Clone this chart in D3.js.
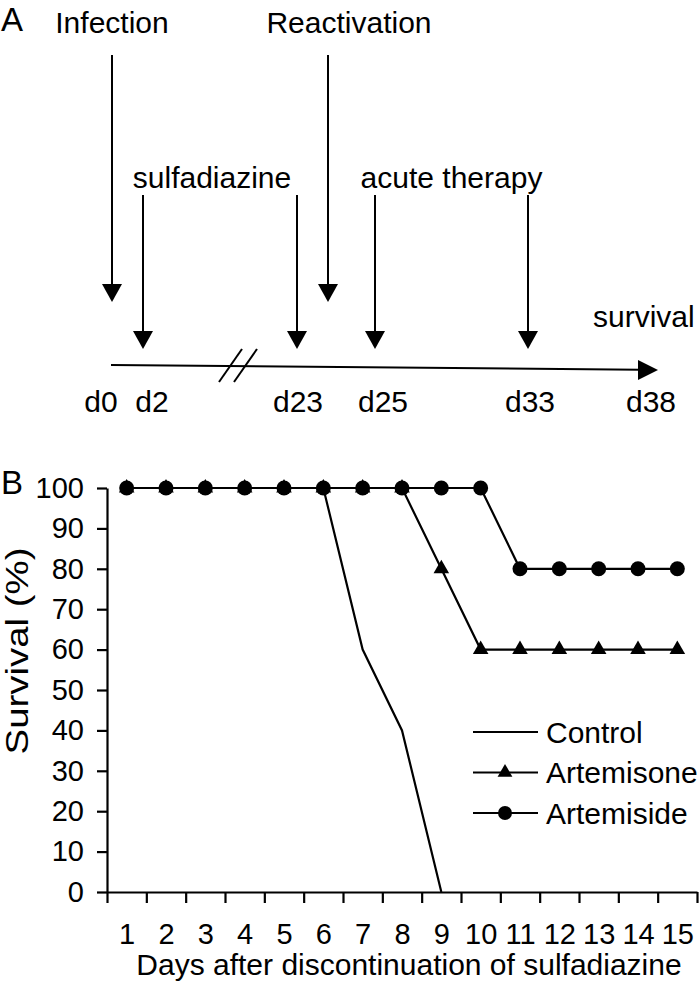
<!DOCTYPE html>
<html>
<head>
<meta charset="utf-8">
<script src="https://cdn.jsdelivr.net/npm/d3@7"></script>
<style>
  body { margin: 0; background: #fff; }
  svg { display: block; font-family: "Liberation Sans", Arial, sans-serif; }
</style>
</head>
<body>
<svg id="fig"></svg>
<script>
// panel A: timeline
const timelineDays = [0, 2, 23, 25, 33, 38];
const timelineLabels = ["d0", "d2", "d23", "d25", "d33", "d38"];
const pointEvents = ["Infection", "Reactivation"];
const pointEventDays = [0, 24];
const periodEvents = ["sulfadiazine", "acute therapy"];
const periodStart = [2, 25];
const periodEnd = [23, 33];
const endLabel = "survival";

// panel B: survival
const days = [1, 2, 3, 4, 5, 6, 7, 8, 9, 10, 11, 12, 13, 14, 15];
const control = [100, 100, 100, 100, 100, 100, 60, 40, 0];
const artemisone = [100, 100, 100, 100, 100, 100, 100, 100, 80, 60, 60, 60, 60, 60, 60];
const artemiside = [100, 100, 100, 100, 100, 100, 100, 100, 100, 100, 80, 80, 80, 80, 80];
const yTicks = [0, 10, 20, 30, 40, 50, 60, 70, 80, 90, 100];
const seriesNames = ["Control", "Artemisone", "Artemiside"];

const width = 700;
const height = 991;
const svg = d3.select("#fig").attr("width", width).attr("height", height);

// ---------- Panel A ----------
const a = svg.append("g");

// timeline has a break so map days piecewise
const tx = d3.scaleLinear()
  .domain([0, 2, 23, 24, 25, 33, 38])
  .range([112, 143, 297, 328, 375, 528, 658]);
const labelX = d3.scaleLinear()
  .domain(timelineDays)
  .range([101, 152, 298, 383, 530, 651]);

function downArrow(g, x, y0, y1) {
  g.append("line")
    .attr("x1", x).attr("x2", x)
    .attr("y1", y0).attr("y2", y1 - 16)
    .attr("stroke", "#000").attr("stroke-width", 2);
  g.append("path")
    .attr("d", `M${x - 10},${y1 - 18} L${x + 10},${y1 - 18} L${x},${y1} Z`)
    .attr("fill", "#000");
}

a.append("text").attr("x", 1).attr("y", 31)
  .attr("font-size", 33).text("A");

// point events (long arrows)
pointEvents.forEach((name, i) => {
  const x = tx(pointEventDays[i]);
  downArrow(a, x, 55, 302);
});
a.append("text").attr("x", tx(pointEventDays[0])).attr("y", 33)
  .attr("text-anchor", "middle").attr("font-size", 30).text(pointEvents[0]);
a.append("text").attr("x", tx(pointEventDays[1]) + 21).attr("y", 33)
  .attr("text-anchor", "middle").attr("font-size", 30).text(pointEvents[1]);

// treatment periods (short arrows at start and end)
periodEvents.forEach((name, i) => {
  const x0 = tx(periodStart[i]);
  const x1 = tx(periodEnd[i]);
  downArrow(a, x0, 195, 349);
  downArrow(a, x1, 195, 349);
  a.append("text")
    .attr("x", (x0 + x1) / 2 - 8 * (1 - i))
    .attr("y", 188)
    .attr("text-anchor", "middle")
    .attr("font-size", 30)
    .text(name);
});

// axis line, slightly tilted like the original
const lineStart = tx(0) - 1;
const lineEnd = tx(38);
a.append("line")
  .attr("x1", lineStart).attr("y1", 365)
  .attr("x2", lineEnd - 18).attr("y2", 369.8)
  .attr("stroke", "#000").attr("stroke-width", 2);
a.append("path")
  .attr("d", `M${lineEnd - 20},${360} L${lineEnd},${370} L${lineEnd - 20},${380} Z`)
  .attr("fill", "#000");

// break marks
[0, 15].forEach(off => {
  a.append("line")
    .attr("x1", 219 + off).attr("y1", 382)
    .attr("x2", 242 + off).attr("y2", 349)
    .attr("stroke", "#000").attr("stroke-width", 2);
});

a.selectAll(".tl-label")
  .data(timelineDays)
  .enter()
  .append("text")
  .attr("class", "tl-label")
  .attr("x", d => labelX(d))
  .attr("y", 412)
  .attr("text-anchor", "middle")
  .attr("font-size", 30)
  .text((d, i) => timelineLabels[i]);

a.append("text").attr("x", 593).attr("y", 327)
  .attr("font-size", 30).text(endLabel);

// ---------- Panel B ----------
const b = svg.append("g");

const x = d3.scaleLinear().domain([0.5, 15.5]).range([107, 697]);
const y = d3.scaleLinear().domain([0, 100]).range([892, 488]);

b.append("text").attr("x", 1).attr("y", 494)
  .attr("font-size", 33).text("B");

const yAxis = b.append("g")
  .attr("transform", `translate(${x.range()[0]},0)`)
  .call(d3.axisLeft(y).tickValues(yTicks).tickSize(10).tickSizeOuter(0).tickPadding(13));

const xAxis = b.append("g")
  .attr("transform", `translate(0,${y(0)})`)
  .call(d3.axisBottom(x).tickValues(d3.range(0.5, 16, 1)).tickFormat("").tickSize(11).tickSizeOuter(0));

const xLabels = b.append("g")
  .attr("transform", `translate(0,${y(0)})`)
  .call(d3.axisBottom(x).tickValues(days).tickSize(0).tickPadding(31));
xLabels.select(".domain").remove();

[yAxis, xAxis, xLabels].forEach(g => {
  g.selectAll("path, line").attr("stroke", "#000").attr("stroke-width", 2.2);
  g.selectAll("text").attr("font-size", 29).attr("fill", "#000")
    .attr("font-family", "Liberation Sans, Arial, sans-serif");
});

b.append("text")
  .attr("x", 409).attr("y", 975)
  .attr("text-anchor", "middle")
  .attr("font-size", 30)
  .text("Days after discontinuation of sulfadiazine");

// the original's y title is stretched along its length
b.append("text")
  .attr("transform", "translate(28,651) rotate(-90) scale(1.28,1.05)")
  .attr("text-anchor", "middle")
  .attr("font-size", 30)
  .text("Survival (%)");

const line = d3.line()
  .x((d, i) => x(days[i]))
  .y(d => y(d));

b.append("path").datum(control)
  .attr("d", line).attr("fill", "none")
  .attr("stroke", "#000").attr("stroke-width", 2.2);

b.append("path").datum(artemisone)
  .attr("d", line).attr("fill", "none")
  .attr("stroke", "#000").attr("stroke-width", 2.2);
b.selectAll(".tri")
  .data(artemisone)
  .enter()
  .append("path")
  .attr("class", "tri")
  .attr("d", d3.symbol(d3.symbolTriangle, 105))
  .attr("transform", (d, i) => `translate(${x(days[i])},${y(d)})`)
  .attr("fill", "#000");

b.append("path").datum(artemiside)
  .attr("d", line).attr("fill", "none")
  .attr("stroke", "#000").attr("stroke-width", 2.2);
b.selectAll(".dot")
  .data(artemiside)
  .enter()
  .append("circle")
  .attr("class", "dot")
  .attr("cx", (d, i) => x(days[i]))
  .attr("cy", d => y(d))
  .attr("r", 7.5)
  .attr("fill", "#000");

// legend
const legend = b.append("g").attr("transform", "translate(473,732)");
seriesNames.forEach((name, i) => {
  const row = legend.append("g").attr("transform", `translate(0,${i * 40.5})`);
  row.append("line").attr("x1", 0).attr("x2", 65)
    .attr("stroke", "#000").attr("stroke-width", 2.2);
  if (i === 1) {
    row.append("path").attr("d", d3.symbol(d3.symbolTriangle, 95))
      .attr("transform", "translate(32,0)").attr("fill", "#000");
  }
  if (i === 2) {
    row.append("circle").attr("cx", 32).attr("r", 7).attr("fill", "#000");
  }
  row.append("text").attr("x", 73).attr("dy", "0.35em")
    .attr("font-size", 30).text(name);
});
</script>
</body>
</html>
